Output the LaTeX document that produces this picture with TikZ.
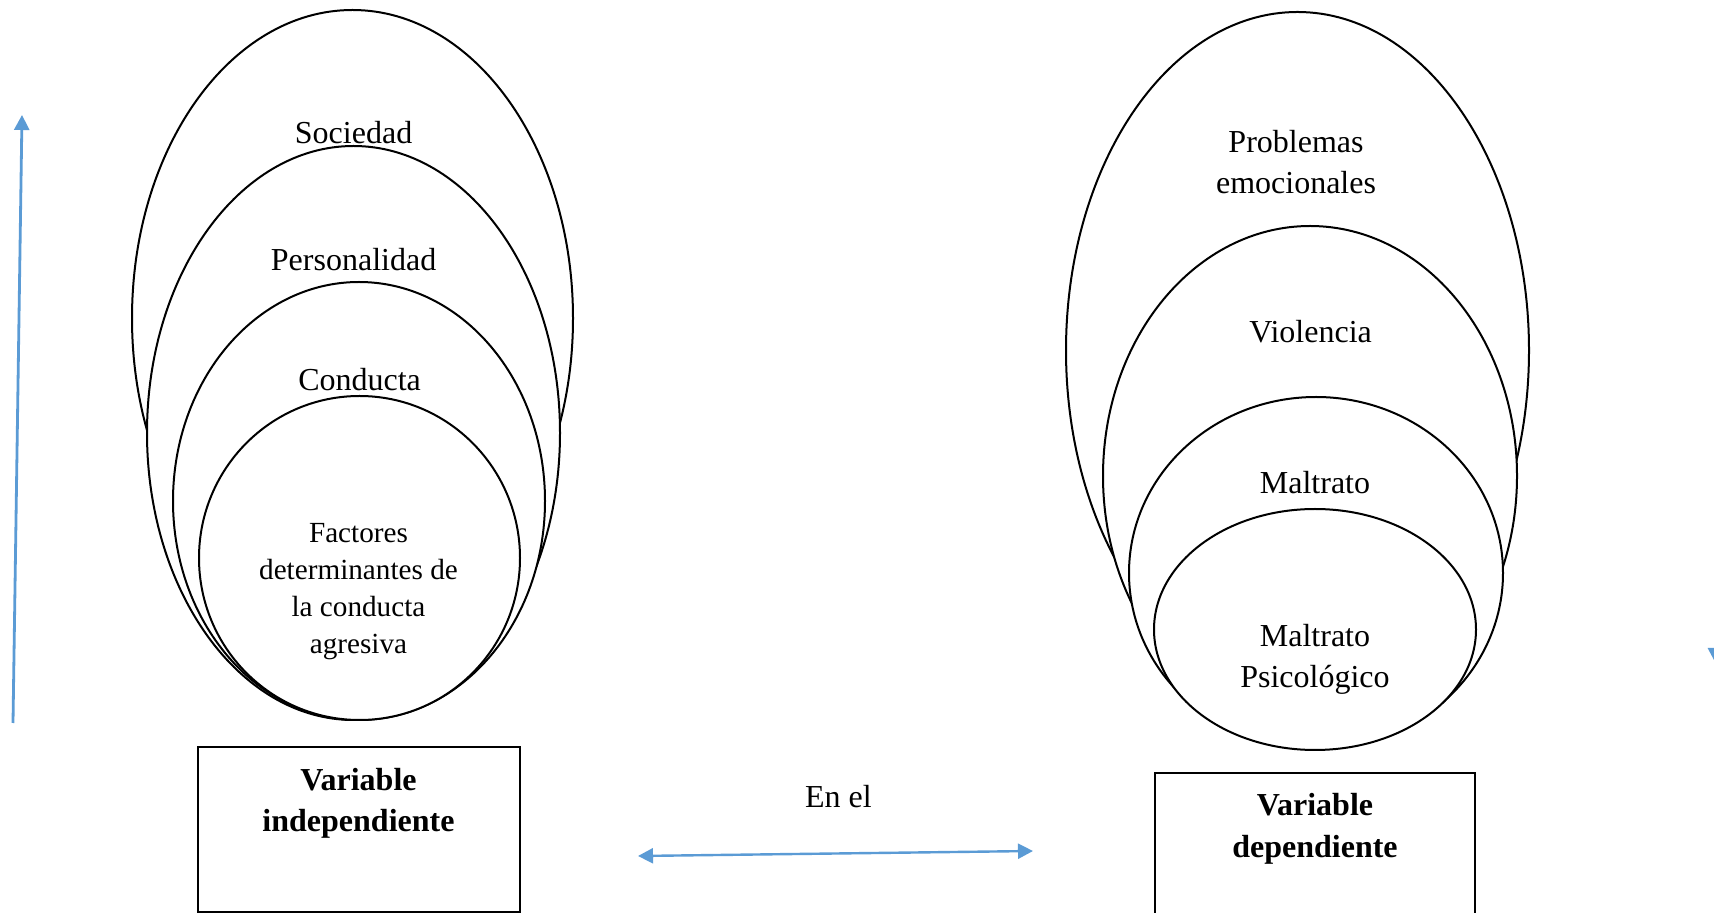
\documentclass[tikz,border=0pt]{standalone}
\usepackage{fontspec}
\setmainfont{Liberation Serif}
\usetikzlibrary{arrows.meta,shapes.geometric}
\definecolor{arrowblue}{RGB}{91,155,213}
\begin{document}
\begin{tikzpicture}[x=0.5pt,y=-0.5pt,
  oval/.style={ellipse,draw=black,line width=1pt,fill=white,inner sep=0pt,outer sep=0pt},
  lbl/.style={font=\fontsize{16}{20.5}\selectfont,align=center,inner sep=0pt},
  smalllbl/.style={font=\fontsize{14.6}{18.4}\selectfont,align=center,inner sep=0pt},
  varbox/.style={draw=black,line width=1.1pt,inner sep=0pt},
  boxlbl/.style={font=\bfseries\fontsize{16}{20.8}\selectfont,align=center,inner sep=0pt},
  bluearrow/.style={draw=arrowblue,line width=1.4pt,-{Triangle[length=7.5pt,width=7.5pt]}},
  bluedouble/.style={draw=arrowblue,line width=1.2pt,{Triangle[length=7.5pt,width=7.5pt]}-{Triangle[length=7.5pt,width=7.5pt]}},
]
\path[use as bounding box, clip] (0,0) rectangle (1714,913);

% left group of ovals
\node[oval,minimum width=220.5pt,minimum height=308.3pt] (e1) at (352.5,318.3) {};
\node[oval,minimum width=206.5pt,minimum height=287pt] (e2) at (353.5,433) {};
\node[oval,minimum width=186pt,minimum height=219pt] (e3) at (359,501) {};
\node[oval,minimum width=160.5pt,minimum height=162pt] (e4) at (359.5,558) {};

% right group of ovals
\node[oval,minimum width=231.5pt,minimum height=338.4pt] (f1) at (1297.5,350.4) {};
\node[oval,minimum width=207pt,minimum height=250pt] (f2) at (1310,476) {};
\node[oval,minimum width=187pt,minimum height=176pt] (f3) at (1316,573) {};
\node[oval,minimum width=161pt,minimum height=120.5pt] (f4) at (1315,629.5) {};

% labels inside ovals
\node[lbl] (tsoc) at (353.6,133) {Sociedad};
\node[lbl] (tper) at (353.6,260) {Personalidad};
\node[lbl] (tcon) at (359.6,380) {Conducta};
\node[smalllbl] (tfac) at (358.5,591.5) {Factores\\determinantes de\\la conducta\\agresiva};

\node[lbl] (tpro) at (1296,162) {Problemas\\emocionales};
\node[lbl] (tvio) at (1310.6,332) {Violencia};
\node[lbl] (tmal) at (1315,482.5) {Maltrato};
\node[lbl] (tpsi) at (1315,659) {Maltrato\\Psicológico};

% variable boxes
\node[varbox,minimum width=161pt,minimum height=82.5pt] (bi) at (359,829.5) {};
\node[boxlbl] (tbi) at (358.5,803.5) {Variable\\independiente};
\node[varbox,minimum width=160pt,minimum height=95pt] (bd) at (1315,868) {};
\node[boxlbl] (tbd) at (1315,829) {Variable\\dependiente};

\node[lbl] (tenel) at (838.5,796.5) {En el};

% arrows
\coordinate (l0) at (13,723);
\coordinate (l1) at (22,115);
\draw[bluearrow] (l0) -- (l1);
\coordinate (r0) at (1715.5,100);
\coordinate (r1) at (1715.5,663);
\draw[bluearrow] (r0) -- (r1);
\coordinate (d0) at (638,856);
\coordinate (d1) at (1033,851);
\draw[bluedouble] (d0) -- (d1);
\end{tikzpicture}
\end{document}
